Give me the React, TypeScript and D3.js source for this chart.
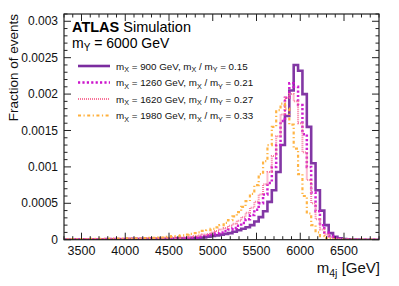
import React from "react";
import * as d3 from "d3";

const binStart = 3275;
const binWidth = 50;

// values per 50 GeV bin (73 bins)
const mx900: number[] = [
  0.000003, 0.000003, 0.000003, 0.000003, 0.000004, 0.000004, 0.000004, 0.000005, 0.000005, 0.000005,
  0.000006, 0.000006, 0.000006, 0.000007, 0.000007, 0.000008, 0.000008, 0.000009, 0.00001, 0.00001,
  0.000011, 0.000012, 0.000013, 0.000014, 0.000015, 0.000016, 0.000018, 0.00002, 0.00002, 0.000022,
  0.000024, 0.000026, 0.00003, 0.00004, 0.00005, 0.00006, 0.00007, 0.00008, 0.00009, 0.00011,
  0.00013, 0.00015, 0.00017, 0.0002, 0.00025, 0.00031, 0.00039, 0.00052, 0.00068, 0.00093,
  0.0013, 0.0017, 0.00205, 0.0024, 0.00232, 0.002, 0.00155, 0.00105, 0.00068, 0.0004,
  0.0002, 0.00009, 0.00004, 0.00002, 0.00001, 0.000005, 0.000002, 0.000001, 0, 0,
  0, 0, 0,
];

const mx1260: number[] = [
  0.000004, 0.000004, 0.000004, 0.000005, 0.000005, 0.000005, 0.000006, 0.000006, 0.000007, 0.000007,
  0.000008, 0.000008, 0.000009, 0.00001, 0.00001, 0.000011, 0.000012, 0.000013, 0.000014, 0.000015,
  0.000016, 0.000017, 0.000018, 0.00002, 0.00002, 0.000022, 0.000024, 0.00002, 0.000025, 0.00003,
  0.00003, 0.00004, 0.00005, 0.00006, 0.00007, 0.00009, 0.0001, 0.00012, 0.00014, 0.00016,
  0.00019, 0.00023, 0.00028, 0.00034, 0.00041, 0.0005, 0.00062, 0.00078, 0.001, 0.0013,
  0.00163, 0.00195, 0.00215, 0.0021, 0.00185, 0.00145, 0.001, 0.00065, 0.00039, 0.0002,
  0.0001, 0.00005, 0.00002, 0.00001, 0.000005, 0.000002, 0.000001, 0, 0, 0,
  0, 0, 0,
];

const mx1620: number[] = [
  0.000005, 0.000005, 0.000006, 0.000006, 0.000007, 0.000007, 0.000008, 0.000008, 0.000009, 0.00001,
  0.00001, 0.000011, 0.000012, 0.000013, 0.000014, 0.000015, 0.000016, 0.000017, 0.000018, 0.00002,
  0.00002, 0.000022, 0.000024, 0.000026, 0.000028, 0.00003, 0.00002, 0.00003, 0.00003, 0.00004,
  0.00005, 0.00006, 0.00007, 0.00008, 0.0001, 0.00012, 0.00014, 0.00016, 0.00019, 0.00022,
  0.00026, 0.00031, 0.00037, 0.00044, 0.00052, 0.00062, 0.00076, 0.00093, 0.00115, 0.00142,
  0.00172, 0.00195, 0.002, 0.0019, 0.0016, 0.0012, 0.00082, 0.0005, 0.00028, 0.00014,
  0.00007, 0.00003, 0.00001, 0.000005, 0.000002, 0.000001, 0, 0, 0, 0,
  0, 0, 0,
];

const mx1980: number[] = [
  0.000006, 0.000007, 0.000007, 0.000008, 0.000008, 0.000009, 0.00001, 0.00001, 0.000011, 0.000012,
  0.000013, 0.000014, 0.000015, 0.000016, 0.000017, 0.000018, 0.00002, 0.00002, 0.00002, 0.000022,
  0.000025, 0.000025, 0.00003, 0.00003, 0.00004, 0.00005, 0.00005, 0.00006, 0.00007, 0.00008,
  0.00009, 0.0001, 0.00012, 0.00013, 0.00015, 0.00017, 0.0002, 0.00023, 0.00027, 0.00032,
  0.00038, 0.00045, 0.00053, 0.00063, 0.00075, 0.0009, 0.00108, 0.0013, 0.00155, 0.00178,
  0.00187, 0.0018, 0.00158, 0.00125, 0.0009, 0.0006, 0.00036, 0.0002, 0.0001, 0.00005,
  0.00002, 0.00001, 0.000005, 0.000002, 0.000001, 0, 0, 0, 0, 0,
  0, 0, 0,
];

const seriesNames = ["900", "1260", "1620", "1980"];
const seriesRatios = ["0.15", "0.21", "0.27", "0.33"];
const seriesData = [mx900, mx1260, mx1620, mx1980];
const seriesColors = ["#7b2c9f", "#cc14cc", "#f8749a", "#ffb03b"];
const seriesDash = ["none", "2.2 2.2", "1 1", "3 2.5 1.2 2.5"];
const seriesWidth = [2.6, 2.5, 2, 2.2];

const xTicks = [3500, 4000, 4500, 5000, 5500, 6000, 6500];
const yTicks = [0, 0.0005, 0.001, 0.0015, 0.002, 0.0025, 0.003];
const yTickLabels = ["0", "0.0005", "0.001", "0.0015", "0.002", "0.0025", "0.003"];

const W = 399;
const H = 286;
const L = 64;
const R = 379;
const T = 14;
const B = 239.7;

export default function App() {
  const x = d3.scaleLinear().domain([3300, 6900]).range([L, R]);
  const y = d3.scaleLinear().domain([0, 0.0031]).range([B, T]);
  const font = "'Liberation Sans', Arial, Helvetica, sans-serif";

  const line = d3
    .line<[number, number]>()
    .x((d) => x(d[0]))
    .y((d) => y(d[1]))
    .curve(d3.curveStepAfter);

  const paths = seriesData.map((vals) => {
    const pts: [number, number][] = vals.map((v, i) => [binStart + i * binWidth, v]);
    pts.push([binStart + vals.length * binWidth, vals[vals.length - 1]]);
    return line(pts) || "";
  });

  const xMinor = d3.range(3300, 6901, 100);
  const yMinor = d3.range(0, 0.00311, 0.0001);

  const axisColor = "#222";
  const legendY = [66, 82.5, 99, 115.5];

  return (
    <svg width={W} height={H} style={{ position: "absolute", left: 0, top: 0, background: "#fff" }}>
      <defs>
        <clipPath id="plotclip">
          <rect x={L} y={T} width={R - L} height={B - T} />
        </clipPath>
      </defs>
      <rect x={0} y={0} width={W} height={H} fill="#fff" />
      <g clipPath="url(#plotclip)">
        {paths.map((p, i) => (
          <path
            key={i}
            d={p}
            fill="none"
            stroke={seriesColors[i]}
            strokeWidth={seriesWidth[i]}
            strokeDasharray={seriesDash[i]}
            opacity={0.95}
          />
        ))}
      </g>
      <rect x={L} y={T} width={R - L} height={B - T} fill="none" stroke={axisColor} strokeWidth={1.2} />
      {xMinor.map((t) => {
        const major = t % 500 === 0;
        const len = major ? 7 : 3.5;
        return (
          <g key={"xt" + t}>
            <line x1={x(t)} x2={x(t)} y1={B} y2={B - len} stroke={axisColor} strokeWidth={1} />
            <line x1={x(t)} x2={x(t)} y1={T} y2={T + len} stroke={axisColor} strokeWidth={1} />
          </g>
        );
      })}
      {yMinor.map((t, i) => {
        const major = i % 5 === 0;
        const len = major ? 7 : 3.5;
        return (
          <g key={"yt" + i}>
            <line x1={L} x2={L + len} y1={y(t)} y2={y(t)} stroke={axisColor} strokeWidth={1} />
            <line x1={R} x2={R - len} y1={y(t)} y2={y(t)} stroke={axisColor} strokeWidth={1} />
          </g>
        );
      })}
      {xTicks.map((t) => (
        <text key={"xl" + t} x={x(t)} y={254.5} fontSize={12.5} fontFamily={font} textAnchor="middle" fill="#111">
          {t}
        </text>
      ))}
      {yTicks.map((t, i) => (
        <text key={"yl" + i} x={58} y={y(t) + 4.2} fontSize={12} fontFamily={font} textAnchor="end" fill="#111">
          {yTickLabels[i]}
        </text>
      ))}
      <text
        transform="translate(18,14) rotate(-90)"
        fontSize={13.5}
        fontFamily={font}
        textAnchor="end"
        fill="#111"
      >
        Fraction of events
      </text>
      <text x={380} y={273} fontSize={15} fontFamily={font} textAnchor="end" fill="#111">
        m<tspan fontSize={10.5} dy={3.5}>4j</tspan>
        <tspan dy={-3.5}> [GeV]</tspan>
      </text>
      <text x={72} y={32} fontSize={14.5} fontFamily={font} fill="#000">
        <tspan fontWeight="bold">ATLAS</tspan>
        <tspan dx={4}>Simulation</tspan>
      </text>
      <text x={72} y={48} fontSize={14} fontFamily={font} fill="#000">
        m<tspan fontSize={10} dy={3}>Y</tspan>
        <tspan dy={-3}> = 6000 GeV</tspan>
      </text>
      {seriesNames.map((n, i) => (
        <g key={"lg" + i}>
          <line
            x1={78}
            x2={110}
            y1={legendY[i]}
            y2={legendY[i]}
            stroke={seriesColors[i]}
            strokeWidth={seriesWidth[i]}
            strokeDasharray={seriesDash[i]}
          />
          <text x={116} y={legendY[i] + 3.5} fontSize={9.8} fontFamily={font} fill="#111">
            m<tspan fontSize={7.2} dy={2.5}>X</tspan>
            <tspan dy={-2.5}>{` = ${n} GeV, m`}</tspan>
            <tspan fontSize={7.2} dy={2.5}>X</tspan>
            <tspan dy={-2.5}> / m</tspan>
            <tspan fontSize={7.2} dy={2.5}>Y</tspan>
            <tspan dy={-2.5}>{` = ${seriesRatios[i]}`}</tspan>
          </text>
        </g>
      ))}
    </svg>
  );
}
